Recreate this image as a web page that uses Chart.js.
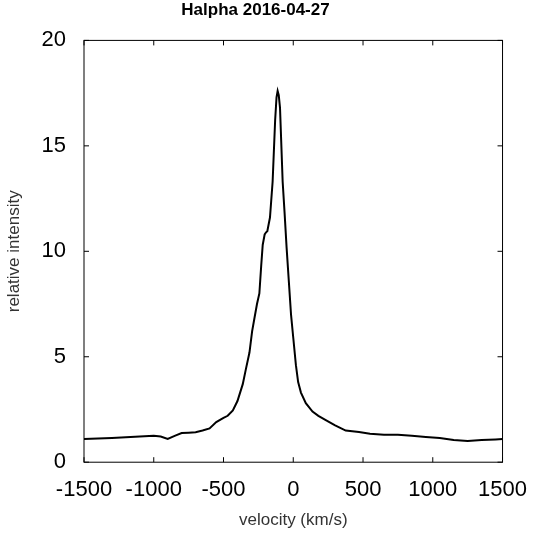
<!DOCTYPE html>
<html>
<head>
<script src="https://cdn.jsdelivr.net/npm/chart.js@4"></script>
<style>
  body { margin: 0; background: #fff; }
  #wrap { width: 534px; height: 533px; }
</style>
</head>
<body>
<div id="wrap"><canvas id="spec"></canvas></div>
<script>
const velocity = [-1500, -1400, -1300, -1200, -1100, -1000, -950, -900, -850, -800, -750, -700, -650, -600, -552, -500, -470, -433, -400, -362, -340, -314, -295, -279, -260, -243, -230, -219, -205, -195, -186, -167, -148, -130, -120, -112, -104, -95, -76, -62, -48, -32, -16, 0, 19, 35, 55, 90, 138, 180, 233, 300, 376, 471, 550, 650, 750, 850, 950, 1050, 1150, 1250, 1350, 1450, 1500];
const intensity = [1.1, 1.12, 1.15, 1.18, 1.22, 1.25, 1.22, 1.1, 1.25, 1.38, 1.4, 1.42, 1.5, 1.6, 1.9, 2.1, 2.2, 2.45, 2.9, 3.7, 4.4, 5.2, 6.2, 6.8, 7.5, 8.0, 9.3, 10.3, 10.8, 10.9, 10.95, 11.6, 13.3, 16.2, 17.3, 17.6, 17.4, 16.8, 13.3, 11.8, 10.2, 8.6, 7.0, 5.9, 4.6, 3.8, 3.3, 2.8, 2.4, 2.2, 2.0, 1.75, 1.5, 1.43, 1.35, 1.3, 1.3, 1.25, 1.2, 1.15, 1.05, 1.0, 1.05, 1.08, 1.1];
const xTicks = [-1500, -1000, -500, 0, 500, 1000, 1500];
const yTicks = [0, 5, 10, 15, 20];

const points = velocity.map((v, i) => ({ x: v, y: intensity[i] }));

const boxPlugin = {
    id: 'box',
    afterDraw(chart) {
        const { ctx, chartArea: a } = chart;
        ctx.save();
        ctx.strokeStyle = '#000';
        ctx.lineWidth = 1;
        ctx.strokeRect(a.left, a.top, a.right - a.left, a.bottom - a.top);
        ctx.beginPath();
        xTicks.forEach((t) => {
            const px = chart.scales.x.getPixelForValue(t);
            ctx.moveTo(px, a.bottom); ctx.lineTo(px, a.bottom - 5);
            ctx.moveTo(px, a.top); ctx.lineTo(px, a.top + 5);
        });
        yTicks.forEach((t) => {
            const py = chart.scales.y.getPixelForValue(t);
            ctx.moveTo(a.left, py); ctx.lineTo(a.left + 5, py);
            ctx.moveTo(a.right, py); ctx.lineTo(a.right - 5, py);
        });
        ctx.stroke();
        ctx.restore();
    },
};

new Chart(document.getElementById('spec').getContext('2d'), {
    type: 'scatter',
    data: {
        datasets: [{
            data: points,
            showLine: true,
            borderColor: '#000',
            borderWidth: 2,
            pointRadius: 0,
            tension: 0,
        }],
    },
    options: {
        responsive: true,
        maintainAspectRatio: false,
        animation: false,
        layout: { padding: { top: 0, right: 27, bottom: 2, left: 4 } },
        plugins: {
            legend: { display: false },
            tooltip: { enabled: false },
            title: {
                display: true,
                text: 'Halpha 2016-04-27',
                color: '#000',
                font: { family: 'Liberation Sans', size: 17, weight: 'bold' },
                padding: { top: 0, bottom: 20 },
            },
        },
        scales: {
            x: {
                type: 'linear',
                min: -1500,
                max: 1500,
                afterBuildTicks: (s) => { s.ticks = xTicks.map((v) => ({ value: v })); },
                grid: { display: false },
                border: { display: false },
                ticks: { color: '#000', font: { family: 'Liberation Sans', size: 22 }, maxRotation: 0, padding: 7, callback: (v) => String(v) },
                title: { display: true, text: 'velocity (km/s)', color: '#333', font: { family: 'Liberation Sans', size: 17 }, padding: 0 },
            },
            y: {
                min: 0,
                max: 20,
                afterBuildTicks: (s) => { s.ticks = yTicks.map((v) => ({ value: v })); },
                afterFit: (s) => { s.width = 80; },
                grid: { display: false },
                border: { display: false },
                ticks: { color: '#000', font: { family: 'Liberation Sans', size: 22 }, padding: 10 },
                title: { display: true, text: 'relative intensity', color: '#333', font: { family: 'Liberation Sans', size: 17 }, padding: 0 },
            },
        },
    },
    plugins: [boxPlugin],
});
</script>
</body>
</html>
